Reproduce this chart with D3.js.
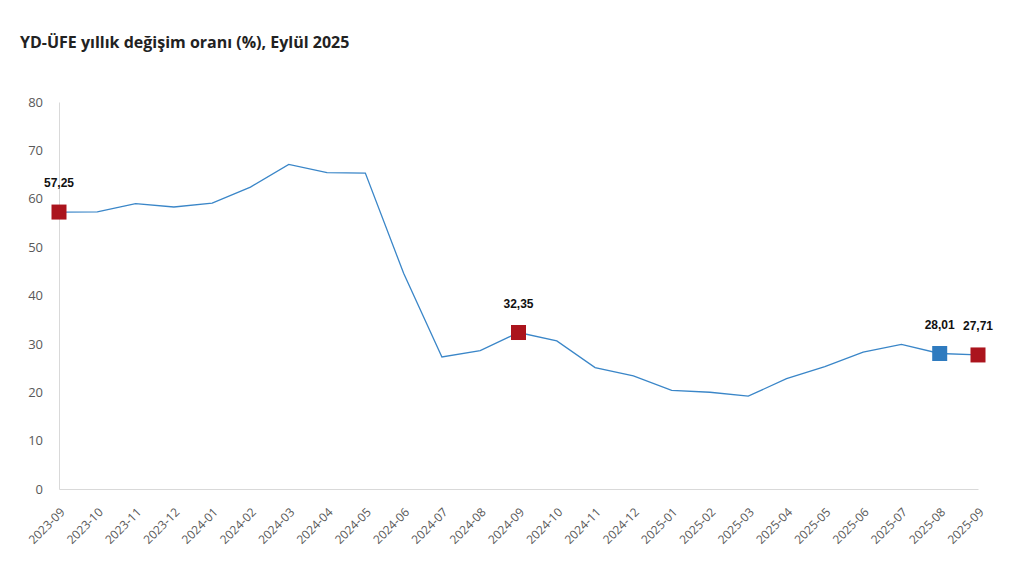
<!DOCTYPE html>
<html><head><meta charset="utf-8">
<script src="https://cdn.jsdelivr.net/npm/d3@7"></script>
<style>body{margin:0;background:#fff}svg{display:block}</style>
</head><body>
<svg id="c" width="1019" height="567"></svg>
<script>
const categories = ["2023-09","2023-10","2023-11","2023-12","2024-01","2024-02","2024-03","2024-04","2024-05","2024-06","2024-07","2024-08","2024-09","2024-10","2024-11","2024-12","2025-01","2025-02","2025-03","2025-04","2025-05","2025-06","2025-07","2025-08","2025-09"];
const values = [57.25,57.3,59.0,58.3,59.1,62.4,67.1,65.4,65.3,44.6,27.3,28.6,32.35,30.6,25.1,23.4,20.4,20.0,19.2,22.8,25.3,28.3,29.9,28.01,27.71];
const yTicks = [0,10,20,30,40,50,60,70,80];
const highlights = [
  {cat:"2023-09", label:"57,25", color:"#ab141d"},
  {cat:"2024-09", label:"32,35", color:"#ab141d"},
  {cat:"2025-08", label:"28,01", color:"#2f7bbf"},
  {cat:"2025-09", label:"27,71", color:"#ab141d"}
];
const title = "YD-ÜFE yıllık değişim oranı (%), Eylül 2025";

const svg = d3.select("#c");
const m = {l:59, r:41, t:102, b:78};
const W = 1019, H = 567;
const x = d3.scalePoint().domain(categories).range([m.l, W - m.r]);
const y = d3.scaleLinear().domain([0,80]).range([H - m.b, m.t]);

svg.append("text").attr("x",20).attr("y",48).text(title)
  .attr("font-family","'Open Sans', 'Noto Sans', sans-serif").attr("font-weight","bold")
  .attr("font-size",16).attr("fill","#222");

// y axis
const ya = svg.append("g").attr("transform",`translate(${m.l},0)`)
  .call(d3.axisLeft(y).tickValues(yTicks).tickSize(0).tickPadding(16));
ya.select(".domain").attr("stroke","#d9d9d9");
ya.selectAll("text").attr("font-family","'Open Sans', sans-serif").attr("font-size",13).attr("fill","#595959");

// x axis
const xa = svg.append("g").attr("transform",`translate(0,${H - m.b})`)
  .call(d3.axisBottom(x).tickSize(0));
xa.select(".domain").attr("stroke","#d9d9d9");
xa.selectAll("text").attr("font-family","'Open Sans', sans-serif").attr("font-size",12).attr("fill","#595959")
  .attr("text-anchor","end").attr("x",0).attr("y",0).attr("dy",0)
  .attr("transform","translate(6,24) rotate(-45)");

// line
svg.append("path").datum(values)
  .attr("d", d3.line().x((d,i)=>x(categories[i])).y(d=>y(d)))
  .attr("fill","none").attr("stroke","#3a86c8").attr("stroke-width",1.3);

// markers
const s = 15;
highlights.forEach(h => {
  const i = categories.indexOf(h.cat);
  const cx = x(h.cat), cy = y(values[i]);
  svg.append("rect").attr("x",cx - s/2).attr("y",cy - s/2).attr("width",s).attr("height",s)
    .attr("fill",h.color);
  svg.append("text").attr("x",cx).attr("y",cy - 25).attr("text-anchor","middle")
    .attr("font-family","'Liberation Sans', Arial, sans-serif").attr("font-weight","bold")
    .attr("font-size",12).attr("fill","#111").text(h.label);
});
</script>
</body></html>
